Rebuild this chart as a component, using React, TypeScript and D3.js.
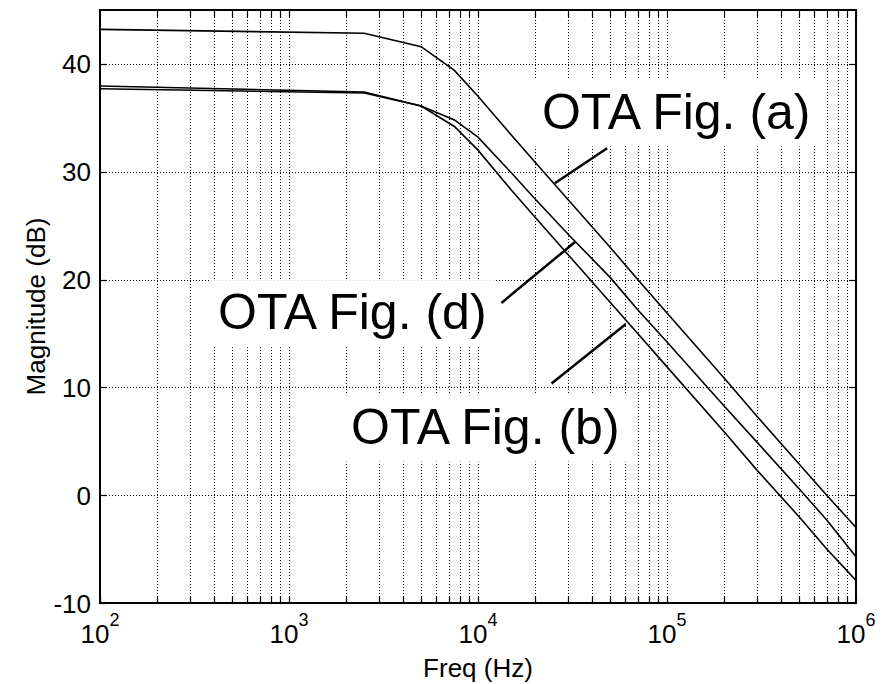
import React, { useEffect, useRef } from "react";
import * as d3 from "d3";

// frequency points (Hz) and magnitudes (dB)
const freqs = [100, 2500, 5000, 7500, 1e4, 1.5e4, 2e4, 3e4, 5e4, 7e4, 1e5, 2e5, 3e5, 5e5, 7e5, 1e6];
const magA = [43.2, 42.85, 41.6, 39.4, 37.0, 33.4, 30.9, 27.4, 23.0, 20.0, 16.9, 10.9, 7.3, 2.9, 0.0, -3.0];
const magD = [37.95, 37.4, 36.1, 34.8, 33.2, 29.9, 27.5, 24.2, 20.2, 17.2, 14.2, 8.3, 4.9, 0.6, -2.3, -5.7];
const magB = [37.7, 37.3, 36.1, 34.2, 32.0, 28.3, 25.8, 22.3, 17.9, 15.0, 11.9, 5.9, 2.3, -2.0, -5.0, -7.9];

const yTicks = [-10, 0, 10, 20, 30, 40];
const xExponents = [2, 3, 4, 5, 6];

// annotations: text start [freq, dB], pointer from/to [freq, dB]
const labelText = ["OTA Fig. (a)", "OTA Fig. (d)", "OTA Fig. (b)"];
const labelPos = [[21800, 34.0], [421, 15.4], [2128, 4.78]];
const pointerFrom = [[25500, 28.93], [13300, 17.83], [24500, 10.36]];
const pointerTo = [[48200, 32.17], [32600, 23.48], [60400, 15.86]];

const W = 886;
const H = 684;
const margin = { left: 100, right: 30, top: 10, bottom: 81 };

const px = (v: number) => Math.round(v) + 0.5;

const App = () => {
  const ref = useRef<SVGSVGElement>(null);

  useEffect(() => {
    const svg = d3.select(ref.current);
    svg.selectAll("*").remove();

    const x = d3.scaleLog().domain([1e2, 1e6]).range([margin.left, W - margin.right]);
    const y = d3.scaleLinear().domain([-10, 45]).range([H - margin.bottom, margin.top]);
    const [x0, x1] = x.range();
    const [y0, y1] = y.range();

    svg.append("rect").attr("width", W).attr("height", H).attr("fill", "#fff");

    // minor + major vertical grid
    const minor: number[] = [];
    for (let e = 2; e < 6; e++) for (let m = 1; m < 10; m++) minor.push(m * Math.pow(10, e));
    minor.push(1e6);

    const grid = svg.append("g").attr("stroke", "#000").attr("stroke-width", 1)
      .attr("stroke-dasharray", "1,2").attr("shape-rendering", "crispEdges");
    grid.selectAll("line.v").data(minor.filter((d) => d > 1e2 && d < 1e6)).enter().append("line")
      .attr("x1", (d) => px(x(d))).attr("x2", (d) => px(x(d))).attr("y1", y0).attr("y2", y1);
    grid.selectAll("line.h").data(yTicks.filter((d) => d > -10)).enter().append("line")
      .attr("x1", x0).attr("x2", x1).attr("y1", (d) => px(y(d))).attr("y2", (d) => px(y(d)));

    // ticks (inward, both sides)
    const ticks = svg.append("g").attr("stroke", "#000").attr("stroke-width", 1.2);
    minor.forEach((d) => {
      ticks.append("line").attr("x1", px(x(d))).attr("x2", px(x(d))).attr("y1", y0).attr("y2", y0 - 7);
      ticks.append("line").attr("x1", px(x(d))).attr("x2", px(x(d))).attr("y1", y1).attr("y2", y1 + 7);
    });
    yTicks.forEach((d) => {
      ticks.append("line").attr("x1", x0).attr("x2", x0 + 7).attr("y1", px(y(d))).attr("y2", px(y(d)));
      ticks.append("line").attr("x1", x1).attr("x2", x1 - 7).attr("y1", px(y(d))).attr("y2", px(y(d)));
    });

    // curves
    const line = d3.line<number>()
      .x((_, i) => x(freqs[i]))
      .y((d) => y(d));
    [magA, magD, magB].forEach((s) => {
      svg.append("path").datum(s).attr("d", line).attr("fill", "none")
        .attr("stroke", "#000").attr("stroke-width", 1.6);
    });

    // frame
    svg.append("rect").attr("x", x0).attr("y", y1).attr("width", x1 - x0).attr("height", y0 - y1)
      .attr("fill", "none").attr("stroke", "#000").attr("stroke-width", 2);

    const font = "'Liberation Sans', Arial, sans-serif";

    // y tick labels
    svg.append("g").selectAll("text").data(yTicks).enter().append("text")
      .attr("x", x0 - 9).attr("y", (d) => y(d) + 9.5).attr("text-anchor", "end")
      .attr("font-family", font).attr("font-size", 26).text((d) => d);

    // x tick labels 10^n
    xExponents.forEach((e) => {
      const t = svg.append("text").attr("x", x(Math.pow(10, e))).attr("y", 643)
        .attr("text-anchor", "middle").attr("font-family", font).attr("font-size", 26);
      t.append("tspan").text("10");
      t.append("tspan").attr("dy", -17).attr("font-size", 18).text(e);
    });

    svg.append("text").attr("x", (x0 + x1) / 2).attr("y", 677).attr("text-anchor", "middle")
      .attr("font-family", font).attr("font-size", 26).text("Freq (Hz)");
    svg.append("text").attr("transform", `translate(45,${(y0 + y1) / 2}) rotate(-90)`)
      .attr("text-anchor", "middle").attr("font-family", font).attr("font-size", 26)
      .text("Magnitude (dB)");

    // annotations with white background boxes
    labelText.forEach((txt, i) => {
      const g = svg.append("g");
      const t = g.append("text").attr("x", x(labelPos[i][0])).attr("y", y(labelPos[i][1]))
        .attr("font-family", font).attr("font-size", 50).text(txt);
      const bb = (t.node() as SVGTextElement).getBBox();
      g.insert("rect", "text").attr("x", bb.x - 8).attr("y", y(labelPos[i][1]) - 49)
        .attr("width", bb.width + 16).attr("height", 67).attr("fill", "#fff");
      svg.append("line")
        .attr("x1", x(pointerFrom[i][0])).attr("y1", y(pointerFrom[i][1]))
        .attr("x2", x(pointerTo[i][0])).attr("y2", y(pointerTo[i][1]))
        .attr("stroke", "#000").attr("stroke-width", 2.5);
    });
  }, []);

  return (
    <svg ref={ref} width={W} height={H} style={{ position: "absolute", left: 0, top: 0 }} />
  );
};

export default App;
